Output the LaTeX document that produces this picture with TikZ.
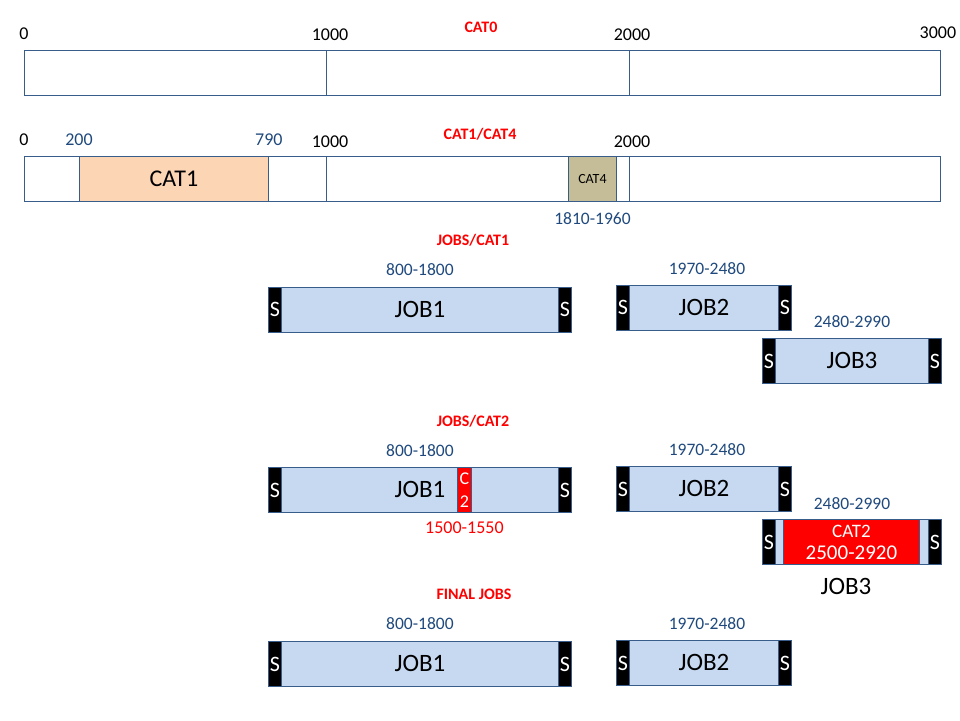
\documentclass[tikz,border=0pt]{standalone}
\usepackage{fontspec}
\setmainfont{Carlito}
\definecolor{outline}{HTML}{385D8A}
\definecolor{navy}{HTML}{1F497D}
\definecolor{jobblue}{HTML}{C6D9F1}
\definecolor{peach}{HTML}{FCD5B5}
\definecolor{tan}{HTML}{C4BD97}
\definecolor{catred}{HTML}{FF0000}
\usepackage{tikz}
\usetikzlibrary{positioning}

\begin{document}
\begin{tikzpicture}[x=1pt, y=-1pt,
  seg/.style={draw=outline, line width=0.9pt, minimum height=45pt, inner sep=0pt, anchor=north west},
  job/.style={seg, fill=jobblue, font=\fontsize{25}{29}\selectfont},
  sbox/.style={draw=outline, line width=0.9pt, fill=black, text=white, minimum width=13pt, minimum height=45pt, inner sep=0pt, font=\fontsize{22}{26}\selectfont},
  tick/.style={inner sep=0pt, font=\fontsize{18}{21}\selectfont},
  spantext/.style={inner sep=0pt, text=navy, font=\fontsize{17.5}{21}\selectfont},
  title/.style={inner sep=0pt, anchor=base, text=catred, font=\bfseries\fontsize{16}{19}\selectfont}]
\useasboundingbox (0,0) rectangle (960,720);
% titles
\node[title] (title0) at (481,32.5) {CAT0};
\node[title] (title1) at (480,139) {CAT1/CAT4};
\node[title] (title2) at (473,245.5) {JOBS/CAT1};
\node[title] (title3) at (473,426.5) {JOBS/CAT2};
\node[title] (title4) at (474,599.5) {FINAL JOBS};
% CAT0
\node[seg, minimum width=302pt] (base0l) at (24,50) {};
\node[seg, minimum width=303pt] (base0m) at (326,50) {};
\node[seg, minimum width=311pt] (base0r) at (629,50) {};
\node[tick, above=10pt of base0l.north west] (tick0a) {0};
\node[tick, above=9pt of base0m.north west, xshift=4pt] (tick0b) {1000};
\node[tick, above=9pt of base0r.north west, xshift=3pt] (tick0c) {2000};
\node[tick, above=11.5pt of base0r.north east, xshift=-3pt] (tick0d) {3000};
% CAT1/CAT4
\node[seg, minimum width=302pt] (base1l) at (24,156) {};
\node[seg, minimum width=303pt] (base1m) at (326,156) {};
\node[seg, minimum width=311pt] (base1r) at (629,156) {};
\node[seg, fill=peach, minimum width=189pt, font=\fontsize{24}{28}\selectfont] (cat1) at (79,156) {CAT1};
\node[seg, fill=tan, minimum width=48pt, font=\fontsize{14}{17}\selectfont] (cat4) at (568,156) {CAT4};
\node[tick, above=10pt of base1l.north west] (tick1a) {0};
\node[tick, text=navy, above=10pt of cat1.north west] (tick1b) {200};
\node[tick, text=navy, above=10pt of cat1.north east] (tick1c) {790};
\node[tick, above=8.5pt of base1m.north west, xshift=4pt] (tick1d) {1000};
\node[tick, above=8.5pt of base1r.north west, xshift=3pt] (tick1e) {2000};
\node[spantext, below=10pt of cat4] (span4) {1810-1960};
% JOBS/CAT1
\node[job, minimum width=303pt] (jobA) at (268,286.5) {JOB1};
\node[job, minimum width=175pt] (jobB) at (616,284.5) {JOB2};
\node[job, minimum width=179pt] (jobC) at (762,338) {JOB3};
\node[sbox, anchor=west] (jobA-l) at (jobA.west) {S};
\node[sbox, anchor=east] (jobA-r) at (jobA.east) {S};
\node[sbox, anchor=west] (jobB-l) at (jobB.west) {S};
\node[sbox, anchor=east] (jobB-r) at (jobB.east) {S};
\node[sbox, anchor=west] (jobC-l) at (jobC.west) {S};
\node[sbox, anchor=east] (jobC-r) at (jobC.east) {S};
\node[spantext, above=11pt of jobA] (spanA) {800-1800};
\node[spantext, above=10pt of jobB, xshift=3pt] (spanB) {1970-2480};
\node[spantext, above=10.5pt of jobC] (spanC) {2480-2990};
% JOBS/CAT2
\node[job, minimum width=303pt] (jobD) at (268,467) {JOB1};
\node[job, minimum width=175pt] (jobE) at (616,466) {JOB2};
\node[job, minimum width=179pt] (jobF) at (762,519) {};
\node[sbox, anchor=west] (jobD-l) at (jobD.west) {S};
\node[sbox, anchor=east] (jobD-r) at (jobD.east) {S};
\node[sbox, anchor=west] (jobE-l) at (jobE.west) {S};
\node[sbox, anchor=east] (jobE-r) at (jobE.east) {S};
\node[sbox, anchor=west] (jobF-l) at (jobF.west) {S};
\node[sbox, anchor=east] (jobF-r) at (jobF.east) {S};
\node[seg, fill=catred, text=white, minimum width=14pt, align=center, font=\fontsize{18}{23}\selectfont] (cat2a) at (457,467) {C\\2};
\node[seg, fill=catred, text=white, minimum width=136pt, align=center, font=\fontsize{21}{22}\selectfont] (cat2b) at (783,519)
  {{\fontsize{19}{22}\selectfont CAT2}\\2500-2920};
\node[spantext, above=10.5pt of jobD] (spanD) {800-1800};
\node[spantext, above=10pt of jobE, xshift=3pt] (spanE) {1970-2480};
\node[spantext, above=9.5pt of jobF] (spanF) {2480-2990};
\node[spantext, text=catred, font=\fontsize{18}{21}\selectfont, below=8.5pt of cat2a] (span2a) {1500-1550};
\node[inner sep=0pt, font=\fontsize{25}{29}\selectfont, below=13pt of jobF, xshift=-6pt] (nameF) {JOB3};
% FINAL JOBS
\node[job, minimum width=303pt] (jobG) at (268,641) {JOB1};
\node[job, minimum width=175pt] (jobH) at (616,640) {JOB2};
\node[sbox, anchor=west] (jobG-l) at (jobG.west) {S};
\node[sbox, anchor=east] (jobG-r) at (jobG.east) {S};
\node[sbox, anchor=west] (jobH-l) at (jobH.west) {S};
\node[sbox, anchor=east] (jobH-r) at (jobH.east) {S};
\node[spantext, above=11pt of jobG] (spanG) {800-1800};
\node[spantext, above=10pt of jobH, xshift=3pt] (spanH) {1970-2480};
\end{tikzpicture}
\end{document}
